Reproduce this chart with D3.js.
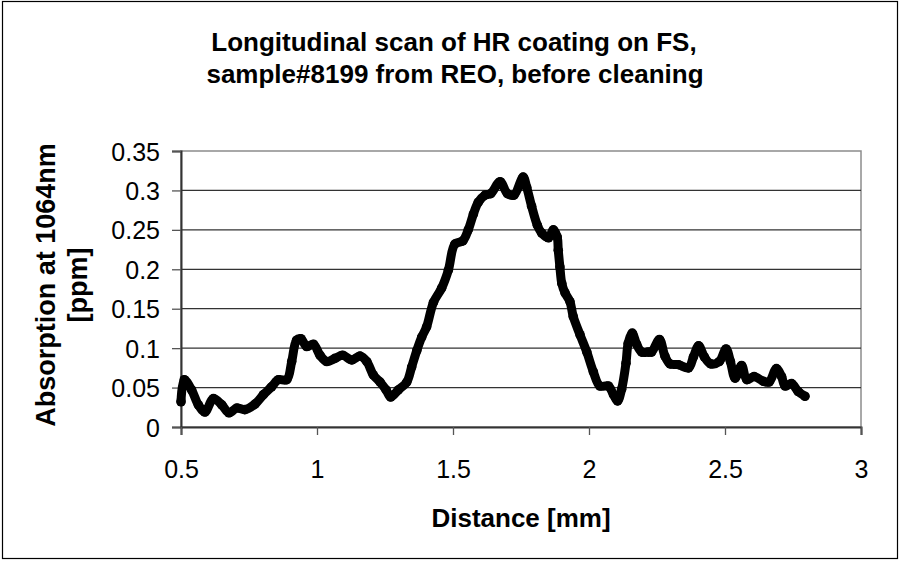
<!DOCTYPE html>
<html>
<head>
    <title>Longitudinal scan</title>
    <script src="https://d3js.org/d3.v7.min.js"></script>
    <style>
        body { margin: 0; background: #fff; }
        text { font-family: "Liberation Sans", Arial, sans-serif; }
    </style>
</head>
<body>
<svg id="chart" width="900" height="561"></svg>
<script>
    // distancia [mm]
    const distance = [0.500, 0.512, 0.539, 0.564, 0.588, 0.619, 0.650, 0.676, 0.705, 0.735,
        0.772, 0.803, 0.833, 0.858, 0.889, 0.907, 0.925, 0.941, 0.962, 0.987,
        1.011, 1.036, 1.066, 1.094, 1.128, 1.158, 1.183, 1.207, 1.232, 1.254,
        1.271, 1.299, 1.330, 1.348, 1.367, 1.385, 1.403, 1.428, 1.458, 1.483,
        1.507, 1.536, 1.556, 1.575, 1.593, 1.618, 1.639, 1.673, 1.700, 1.724,
        1.758, 1.771, 1.789, 1.810, 1.826, 1.851, 1.869, 1.883, 1.887, 1.893,
        1.900, 1.912, 1.930, 1.942, 1.967, 1.992, 2.016, 2.040, 2.071, 2.090,
        2.105, 2.120, 2.136, 2.144, 2.159, 2.175, 2.194, 2.218, 2.230, 2.259,
        2.279, 2.298, 2.329, 2.366, 2.384, 2.403, 2.424, 2.448, 2.479, 2.504,
        2.520, 2.537, 2.561, 2.580, 2.607, 2.641, 2.662, 2.689, 2.708, 2.721,
        2.745, 2.769, 2.794];
    // absorcion a 1064nm [ppm]
    const absorption = [0.032, 0.060, 0.047, 0.028, 0.019, 0.036, 0.028, 0.018, 0.024, 0.022,
        0.029, 0.041, 0.051, 0.060, 0.060, 0.083, 0.110, 0.112, 0.102, 0.105,
        0.091, 0.083, 0.087, 0.091, 0.085, 0.090, 0.083, 0.066, 0.057, 0.047,
        0.038, 0.047, 0.057, 0.076, 0.097, 0.114, 0.127, 0.158, 0.176, 0.199,
        0.232, 0.236, 0.250, 0.270, 0.285, 0.294, 0.296, 0.311, 0.296, 0.294,
        0.317, 0.304, 0.280, 0.256, 0.246, 0.240, 0.250, 0.241, 0.224, 0.203,
        0.182, 0.170, 0.159, 0.140, 0.117, 0.095, 0.070, 0.052, 0.052, 0.041,
        0.033, 0.048, 0.081, 0.106, 0.119, 0.105, 0.095, 0.095, 0.095, 0.111,
        0.090, 0.080, 0.079, 0.075, 0.089, 0.103, 0.089, 0.080, 0.083, 0.099,
        0.083, 0.062, 0.078, 0.060, 0.064, 0.058, 0.057, 0.074, 0.064, 0.052,
        0.055, 0.045, 0.039];

    const xTicks = [0.5, 1, 1.5, 2, 2.5, 3];
    const yTicks = [0, 0.05, 0.1, 0.15, 0.2, 0.25, 0.3, 0.35];

    const svg = d3.select("#chart");
    const plot = { left: 181, right: 861, top: 151, bottom: 427 };

    const x = d3.scaleLinear().domain([0.5, 3]).range([plot.left, plot.right]);
    const y = d3.scaleLinear().domain([0, 0.35]).range([plot.bottom, plot.top]);

    // marco exterior
    svg.append("rect")
        .attr("x", 2.5).attr("y", 1.5)
        .attr("width", 895).attr("height", 557)
        .attr("fill", "#fff").attr("stroke", "#000").attr("stroke-width", 1.2);

    // borde del area de grafico
    svg.append("rect")
        .attr("x", plot.left).attr("y", plot.top)
        .attr("width", plot.right - plot.left).attr("height", plot.bottom - plot.top)
        .attr("fill", "none").attr("stroke", "#8c8c8c").attr("stroke-width", 1.5);

    // lineas de cuadricula
    svg.append("g").selectAll("line")
        .data(yTicks.filter(d => d > 0 && d < 0.35))
        .join("line")
        .attr("x1", plot.left).attr("x2", plot.right)
        .attr("y1", d => y(d)).attr("y2", d => y(d))
        .attr("stroke", "#333").attr("stroke-width", 1.2);

    // ejes
    const yAxis = svg.append("g")
        .attr("transform", `translate(${plot.left},0)`)
        .call(d3.axisLeft(y).tickValues(yTicks).tickFormat(d => String(+d.toFixed(2)))
            .tickSize(9).tickPadding(12));

    const xAxis = svg.append("g")
        .attr("transform", `translate(0,${plot.bottom})`)
        .call(d3.axisBottom(x).tickValues(xTicks).tickFormat(d => String(d))
            .tickSize(8).tickPadding(25));

    [yAxis, xAxis].forEach(g => {
        g.select(".domain").attr("stroke", "#333").attr("stroke-width", 2);
        g.selectAll(".tick line").attr("stroke", "#555").attr("stroke-width", 1.3);
        g.selectAll(".tick text").attr("fill", "#000").style("font-size", "25px")
            .style("font-family", "'Liberation Sans', Arial, sans-serif");
    });
    yAxis.selectAll(".tick text").attr("dy", "0.36em");
    xAxis.selectAll(".tick text").attr("dy", "0.71em");

    // serie de datos
    const pts = distance.map((d, i) => [d, absorption[i]]);
    const line = d3.line().x(d => x(d[0])).y(d => y(d[1])).curve(d3.curveCatmullRom);

    svg.append("path")
        .datum(pts)
        .attr("fill", "none")
        .attr("stroke", "#000")
        .attr("stroke-width", 9)
        .attr("stroke-linejoin", "round")
        .attr("stroke-linecap", "round")
        .attr("d", line);

    svg.append("g").selectAll("circle")
        .data(pts)
        .join("circle")
        .attr("cx", d => x(d[0]))
        .attr("cy", d => y(d[1]))
        .attr("r", 4.8)
        .attr("fill", "#000");

    // titulos
    const title = svg.append("text")
        .attr("text-anchor", "middle")
        .style("font-size", "26px").style("font-weight", "bold");
    title.append("tspan").attr("x", 454).attr("y", 51).text("Longitudinal scan of HR coating on FS,");
    title.append("tspan").attr("x", 455).attr("y", 83).text("sample#8199 from REO, before cleaning");

    svg.append("text")
        .attr("x", 521).attr("y", 527)
        .attr("text-anchor", "middle")
        .style("font-size", "26px").style("font-weight", "bold")
        .text("Distance [mm]");

    const yTitle = svg.append("text")
        .attr("transform", "translate(0,285) rotate(-90)")
        .attr("text-anchor", "middle")
        .style("font-size", "27px").style("font-weight", "bold");
    yTitle.append("tspan").attr("x", 0).attr("y", 55).text("Absorption at 1064nm");
    yTitle.append("tspan").attr("x", 0).attr("y", 87).text("[ppm]");
</script>
</body>
</html>
